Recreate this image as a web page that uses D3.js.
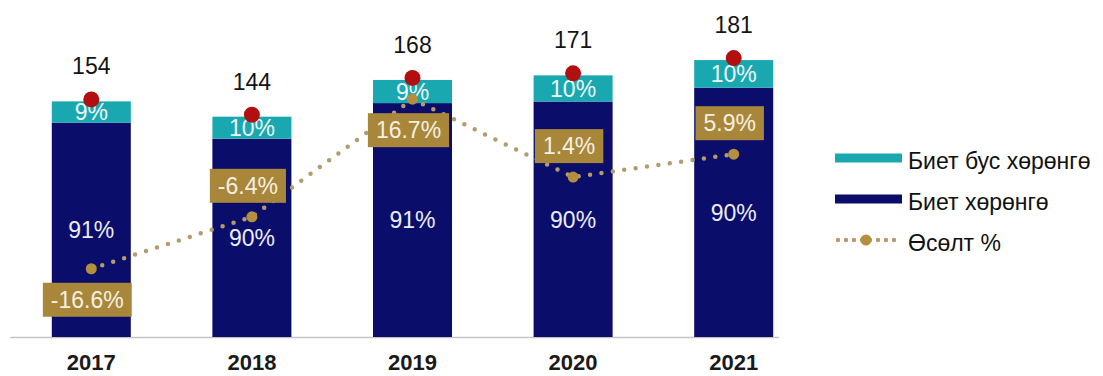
<!DOCTYPE html>
<html>
<head>
<meta charset="utf-8">
<script src="https://cdn.jsdelivr.net/npm/d3@7"></script>
<style>
  html, body { margin: 0; padding: 0; background: #fff; }
  svg { display: block; font-family: "Liberation Sans", Arial, sans-serif; }
</style>
</head>
<body>
<svg id="chart" width="1103" height="376"></svg>
<script>
// Asset totals by year, with the split between tangible and intangible assets
const years = ["2017", "2018", "2019", "2020", "2021"];
const totals = [154, 144, 168, 171, 181];
const tangiblePct = [91, 90, 91, 90, 90];
const intangiblePct = [9, 10, 9, 10, 10];
const growthPct = [-16.6, -6.4, 16.7, 1.4, 5.9];
const legendLabels = ["Биет бус хөрөнгө", "Биет хөрөнгө", "Өсөлт %"];

const colors = {
  tangible: "#0b0d6b",
  intangible: "#1aa8b0",
  growthLine: "#b39c6c",
  growthDot: "#b38f3e",
  growthBox: "#a8873a",
  total: "#b20f10",
  axis: "#c4c4c4"
};

const svg = d3.select("#chart");
const baseY = 337;

const x = d3.scaleBand()
  .domain(years)
  .range([11, 814])
  .paddingInner(0.508)
  .paddingOuter(0.254);

const y = d3.scaleLinear().domain([0, 200]).range([baseY, 31]);
const y2 = d3.scaleLinear().domain([-30, 35]).range([baseY, 6]);

// stacked rows: tangible at the bottom, intangible on top
const rows = years.map((yr, i) => ({
  year: yr,
  tangible: totals[i] * tangiblePct[i] / 100,
  intangible: totals[i] * intangiblePct[i] / 100,
  tPct: tangiblePct[i],
  iPct: intangiblePct[i],
  total: totals[i],
  growth: growthPct[i]
}));

const stack = d3.stack().keys(["tangible", "intangible"]);
const series = stack(rows);

// baseline
svg.append("line")
  .attr("x1", 10).attr("x2", 779)
  .attr("y1", baseY + 0.5).attr("y2", baseY + 0.5)
  .attr("stroke", colors.axis).attr("stroke-width", 1.5);

const layers = svg.append("g").selectAll("g")
  .data(series).join("g")
  .attr("fill", d => colors[d.key]);

layers.selectAll("rect")
  .data(d => d)
  .join("rect")
  .attr("x", d => x(d.data.year))
  .attr("width", x.bandwidth())
  .attr("y", d => y(d[1]))
  .attr("height", d => y(d[0]) - y(d[1]));

// segment share labels
series.forEach(s => {
  svg.append("g").selectAll("text")
    .data(s).join("text")
    .attr("x", d => x(d.data.year) + x.bandwidth() / 2)
    .attr("y", d => (y(d[0]) + y(d[1])) / 2)
    .attr("dy", "0.36em")
    .attr("text-anchor", "middle")
    .attr("font-size", 23)
    .attr("fill", s.key === "tangible" ? "#ececf4" : "#eef8f8")
    .text(d => (s.key === "tangible" ? d.data.tPct : d.data.iPct) + "%");
});

// total markers and labels
svg.append("g").selectAll("circle")
  .data(rows).join("circle")
  .attr("cx", d => x(d.year) + x.bandwidth() / 2)
  .attr("cy", d => y(d.total) - 2)
  .attr("r", 8)
  .attr("fill", colors.total);

svg.append("g").selectAll("text")
  .data(rows).join("text")
  .attr("x", d => x(d.year) + x.bandwidth() / 2)
  .attr("y", d => y(d.total) - 27)
  .attr("text-anchor", "middle")
  .attr("font-size", 23)
  .attr("fill", "#141414")
  .text(d => d.total);

// growth line
const cx = d => x(d.year) + x.bandwidth() / 2;
const line = d3.line().x(cx).y(d => y2(d.growth));

svg.append("path")
  .datum(rows)
  .attr("d", line)
  .attr("fill", "none")
  .attr("stroke", colors.growthLine)
  .attr("stroke-width", 4.5)
  .attr("stroke-linecap", "round")
  .attr("stroke-dasharray", "0 11.5");

svg.append("g").selectAll("circle")
  .data(rows).join("circle")
  .attr("cx", cx)
  .attr("cy", d => y2(d.growth))
  .attr("r", 5.5)
  .attr("fill", colors.growthDot);

// growth value boxes, placed below the point at the low start and the peak
const below = [true, false, true, false, false];
const gLabels = svg.append("g").selectAll("g")
  .data(rows).join("g")
  .attr("transform", (d, i) =>
    `translate(${cx(d) - 4},${y2(d.growth) + (below[i] ? 31 : -31)})`);

gLabels.append("text")
  .attr("text-anchor", "middle")
  .attr("dy", "0.36em")
  .attr("font-size", 23)
  .attr("fill", "#f5efe2")
  .text(d => d.growth.toFixed(1) + "%")
  .each(function () {
    const b = this.getBBox();
    d3.select(this.parentNode).insert("rect", "text")
      .attr("x", b.x - 8)
      .attr("y", -17)
      .attr("width", b.width + 16)
      .attr("height", 34)
      .attr("fill", colors.growthBox);
  });

// year labels
svg.append("g").selectAll("text")
  .data(years).join("text")
  .attr("x", d => x(d) + x.bandwidth() / 2)
  .attr("y", 370)
  .attr("text-anchor", "middle")
  .attr("font-size", 22)
  .attr("font-weight", "bold")
  .attr("fill", "#1a1a1a")
  .text(d => d);

// legend
const legend = svg.append("g").attr("transform", "translate(835,158)");
const swatchW = 67;
const rowGap = 41;
[colors.intangible, colors.tangible].forEach((c, i) => {
  legend.append("rect")
    .attr("x", 0).attr("y", i * rowGap - 4.5)
    .attr("width", swatchW).attr("height", 9)
    .attr("fill", c);
});
legend.append("line")
  .attr("x1", 3).attr("x2", swatchW)
  .attr("y1", 2 * rowGap).attr("y2", 2 * rowGap)
  .attr("stroke", colors.growthLine)
  .attr("stroke-width", 4.5)
  .attr("stroke-linecap", "round")
  .attr("stroke-dasharray", "0 8");
legend.append("circle")
  .attr("cx", 31).attr("cy", 2 * rowGap).attr("r", 5.5)
  .attr("fill", colors.growthDot);

legend.selectAll("text.lbl")
  .data(legendLabels).join("text")
  .attr("class", "lbl")
  .attr("x", 73)
  .attr("y", (d, i) => i * rowGap + 3)
  .attr("dy", "0.36em")
  .attr("font-size", 23)
  .attr("fill", "#111")
  .text(d => d);
</script>
</body>
</html>
